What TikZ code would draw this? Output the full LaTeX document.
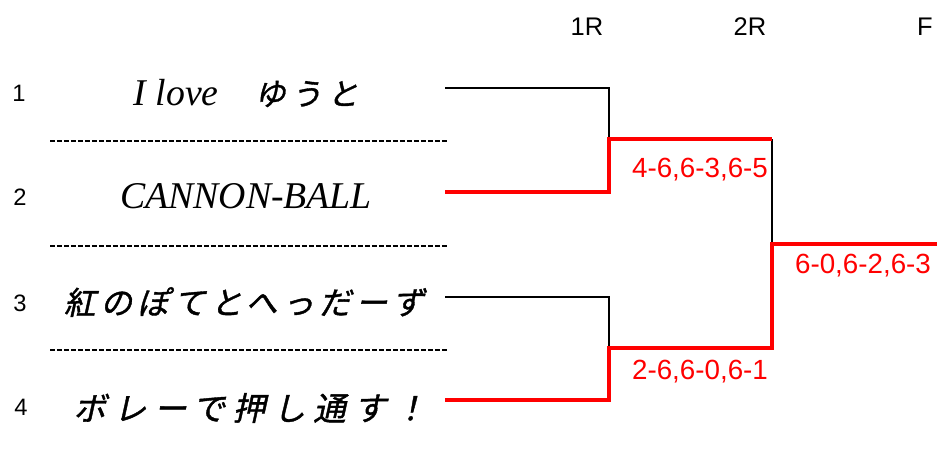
\documentclass[tikz,border=0pt]{standalone}
\usepackage{fontspec}
\setmainfont{Liberation Serif}
\newfontfamily\arialfont{Liberation Sans}
\newfontfamily\jpfont[FakeSlant=0.22, FakeBold=1.2]{Noto Sans CJK JP}
\usetikzlibrary{positioning}

\begin{document}
\begin{tikzpicture}[
  x=0.02cm, y=-0.02cm,
  entry/.style={font=\fontsize{21.5}{24}\selectfont\itshape, inner sep=0pt},
  seed/.style={font=\arialfont\fontsize{13.5}{15}\selectfont, inner sep=0pt},
  roundhead/.style={font=\arialfont\fontsize{14.5}{16}\selectfont, inner sep=0pt},
  score/.style={font=\arialfont\fontsize{15.8}{18}\selectfont, text=red, inner sep=0pt},
  divider/.style={dash pattern=on 0.1cm off 0.04cm, line width=1.1pt},
  loseline/.style={line width=1.5pt, black},
  winline/.style={line width=2.7pt, red}
]
\useasboundingbox (0,0) rectangle (937,453);

%% ---- round headers ----
\node[roundhead] (h1) at (587,27) {1R};
\node[roundhead] (h2) at (750,27) {2R};
\node[roundhead] (h3) at (925,27) {F};

%% ---- seeds and entries ----
\node[seed] (n1) at (19,93)  {1};
\node[seed] (n2) at (20,197) {2};
\node[seed] (n3) at (20,303) {3};
\node[seed] (n4) at (21,407) {4};

\node[entry] (p1) at (246,93)
  {I love{\jpfont\addfontfeature{LetterSpace=18}\fontsize{17.5}{20}\selectfont　ゆうと}};
\node[entry] (p2) at (246,196) {CANNON-BALL};
\node[entry] (p3) at (244,302)
  {\jpfont\addfontfeature{LetterSpace=16}\fontsize{18}{20}\selectfont 紅のぽてとへっだーず};
\node[entry] (p4) at (250,408)
  {\jpfont\addfontfeature{LetterSpace=24}\fontsize{18.5}{20}\selectfont ボレーで押し通す！};

%% ---- dividing rules ----
\draw[divider] (50,141) -- (447,141);
\draw[divider] (50,246) -- (447,246);
\draw[divider] (50,350) -- (447,350);

%% ---- bracket points ----
\coordinate (e1) at (445,88);
\coordinate (e2) at (445,192);
\coordinate (e3) at (445,297);
\coordinate (e4) at (445,400);
\coordinate (s1) at (609,139);
\coordinate (s2) at (609,348);
\coordinate (t1) at (772,139);
\coordinate (t2) at (772,348);
\coordinate (fin) at (772,244);
\coordinate (champ) at (937,244);

%% ---- losers ----
\draw[loseline] (e1) -| (s1);
\draw[loseline] (e3) -| (s2);
\draw[loseline] (t1) -- (fin);

%% ---- winners ----
\draw[winline] (e2) -| (s1) -- (t1);
\draw[winline] (e4) -| (s2) -- (t2) -- (fin) -- (champ);

%% ---- scores ----
\node[score] (sc1) at (700,170) {4-6,6-3,6-5};
\node[score] (sc2) at (700,372) {2-6,6-0,6-1};
\node[score] (sc3) at (863,266) {6-0,6-2,6-3};

\end{tikzpicture}
\end{document}
